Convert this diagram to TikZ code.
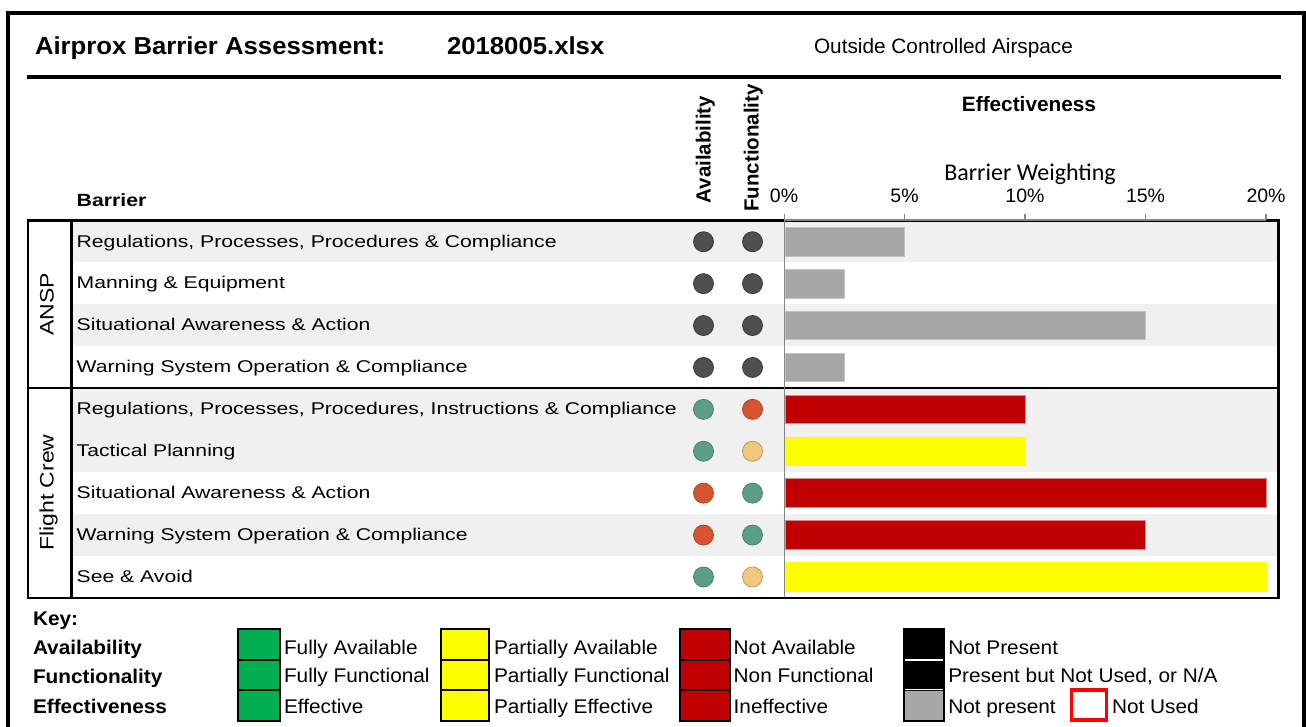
\documentclass[tikz,border=0pt]{standalone}
\usepackage{fontspec}
\setmainfont{Liberation Sans}
\newfontfamily\fT[FakeStretch=1.05]{Liberation Sans}
\newfontfamily\fW[FakeStretch=1.245]{Liberation Sans}
\newfontfamily\fB[FakeStretch=1.2]{Liberation Sans}
\newfontfamily\fG[FakeStretch=1.18]{Liberation Sans}
\newfontfamily\fK[FakeStretch=1.05]{Liberation Sans}
\newfontfamily\fC{Carlito}
\definecolor{rowgray}{HTML}{F0F0F0}
\definecolor{bargray}{HTML}{A6A6A6}
\definecolor{bargrayE}{HTML}{C4C4C4}
\definecolor{barred}{HTML}{C00000}
\definecolor{barredE}{HTML}{E08585}
\definecolor{baryel}{HTML}{FFFF00}
\definecolor{dkF}{HTML}{4F4F4F}
\definecolor{dkE}{HTML}{3A3A3A}
\definecolor{tlF}{HTML}{5C9E8A}
\definecolor{tlE}{HTML}{4A8272}
\definecolor{rdF}{HTML}{D85430}
\definecolor{rdE}{HTML}{B04422}
\definecolor{tnF}{HTML}{F0C880}
\definecolor{tnE}{HTML}{C09858}
\definecolor{keygreen}{HTML}{00B050}
\definecolor{axisgray}{HTML}{868686}
\tikzset{
  txt/.style={inner sep=0pt, outer sep=0pt, anchor=base west},
  rowtxt/.style={txt, font=\fW\fontsize{17}{20}\selectfont},
  keytxt/.style={txt, font=\fK\fontsize{19.8}{22}\selectfont},
  keyhead/.style={txt, font=\fK\bfseries\fontsize{19.8}{22}\selectfont},
  colhead/.style={inner sep=0pt, outer sep=0pt, rotate=90, anchor=base west, font=\bfseries\fontsize{20.5}{22}\selectfont},
  grplab/.style={inner sep=0pt, outer sep=0pt, rotate=90, anchor=base, font=\fG\fontsize{19.5}{22}\selectfont},
  ticklab/.style={inner sep=0pt, outer sep=0pt, anchor=base, font=\fontsize{19.5}{22}\selectfont},
  dot/.style={circle, minimum size=20pt, inner sep=0pt, line width=0.8pt},
  dk/.style={fill=dkF, draw=dkE},
  tl/.style={fill=tlF, draw=tlE},
  rd/.style={fill=rdF, draw=rdE},
  tn/.style={fill=tnF, draw=tnE},
  bG/.style={fill=bargray, draw=bargrayE, line width=0.8pt},
  bR/.style={fill=barred, draw=barredE, line width=0.8pt},
  bY/.style={fill=baryel, draw=baryel, line width=0.8pt},
  keybox/.style={draw=black, line width=2pt},
}
\newcommand\brow[6]{%
  \pgfmathsetmacro\yc{220.3+41.9*(#1-0.5)}%
  \node[rowtxt] (lab#1) at (76.7,\yc+5.8) {#2};%
  \node[dot,#3] (av#1) at (703.5,\yc+0.5) {};%
  \node[dot,#4] (fu#1) at (752.5,\yc+0.5) {};%
  \draw[#6] (785.8,\yc+0.5-14.3) rectangle ({784+24.1*#5},\yc+0.5+14.3);%
}
\begin{document}
\begin{tikzpicture}[x=1pt,y=-1pt]
\useasboundingbox (0,0) rectangle (1306,727);
\fill[white] (0,0) rectangle (1306,727);
% outer frame
\draw[line width=4pt] (8,740) -- (8,13) -- (1304,13) -- (1304,740);
% title
\node[txt, font=\fT\bfseries\fontsize{24.5}{28}\selectfont] (title) at (35,55) {Airprox Barrier Assessment:};
\node[txt, font=\fT\bfseries\fontsize{24.5}{28}\selectfont] (file) at (447,55) {2018005.xlsx};
\node[inner sep=0pt, anchor=base, font=\fontsize{20.8}{24}\selectfont] (space) at (943.5,54) {Outside Controlled Airspace};
\draw[line width=3.4pt] (26.7,77) -- (1281,77);
% column headers
\node[colhead] (havail) at (710.7,203.3) {Availability};
\node[colhead] (hfunc) at (758.5,211.7) {Functionality};
\node[inner sep=0pt, anchor=base, font=\bfseries\fontsize{20.8}{24}\selectfont] (heff) at (1029,111.5) {Effectiveness};
\node[inner sep=0pt, anchor=base, font=\fC\fontsize{24}{28}\selectfont] (hbw) at (1030,181) {Barrier Weighting};
\node[txt, font=\fB\bfseries\fontsize{17.7}{20}\selectfont] (hbar) at (76.7,206.7) {Barrier};
\foreach \p/\t in {0/0\%,5/5\%,10/10\%,15/15\%,20/20\%}{
  \node[ticklab] (tk\p) at ({784+24.1*\p},202.3) {\t};
}
% row shading
\foreach \i in {1,3,5,6,8}{
  \fill[rowgray] (72.7,{220.3+41.9*(\i-1)}) rectangle (1277.7,{220.3+41.9*\i});
}
% rows
\brow{1}{Regulations, Processes, Procedures \& Compliance}{dk}{dk}{5}{bG}
\brow{2}{Manning \& Equipment}{dk}{dk}{2.5}{bG}
\brow{3}{Situational Awareness \& Action}{dk}{dk}{15}{bG}
\brow{4}{Warning System Operation \& Compliance}{dk}{dk}{2.5}{bG}
\brow{5}{Regulations, Processes, Procedures, Instructions \& Compliance}{tl}{rd}{10}{bR}
\brow{6}{Tactical Planning}{tl}{tn}{10}{bY}
\brow{7}{Situational Awareness \& Action}{rd}{tl}{20}{bR}
\brow{8}{Warning System Operation \& Compliance}{rd}{tl}{15}{bR}
\brow{9}{See \& Avoid}{tl}{tn}{20}{bY}
% group labels
\node[grplab] (gansp) at (53.5,{220.3+41.9*2}) {ANSP};
\node[grplab] (gfc) at (53.5,{220.3+41.9*6.5}) {Flight Crew};
% table borders
\draw[line width=2.6pt] (28,220.3) rectangle (1278.7,597.8);
\draw[line width=2.2pt] (71.5,220.3) -- (71.5,597.8);
\draw[line width=2pt] (28,387.9) -- (1278.7,387.9);
% axis
\draw[axisgray, line width=1.5pt] (784.5,214.5) -- (784.5,597);
\draw[axisgray, line width=2pt] (784,220.3) -- (1266,220.3);
\foreach \p in {5,10,15,20}{
  \draw[axisgray, line width=1.5pt] ({784+24.1*\p},214.5) -- ({784+24.1*\p},220.3);
}
% key
\node[keyhead] (kkey) at (33,625) {Key:};
\node[keyhead] (kav) at (33,654) {Availability};
\node[keyhead] (kfu) at (33,683) {Functionality};
\node[keyhead] (kef) at (33,713.5) {Effectiveness};
% green
\draw[keybox, fill=keygreen] (238.3,629) rectangle (280,660);
\draw[keybox, fill=keygreen] (238.3,660) rectangle (280,690.3);
\draw[keybox, fill=keygreen] (238.3,690.3) rectangle (280,720.7);
\node[keytxt] (kg1) at (284,654) {Fully Available};
\node[keytxt] (kg2) at (284,682.7) {Fully Functional};
\node[keytxt] (kg3) at (284,713.3) {Effective};
% yellow
\draw[keybox, fill=baryel] (440.7,629) rectangle (489.3,660);
\draw[keybox, fill=baryel] (440.7,660) rectangle (489.3,690.3);
\draw[keybox, fill=baryel] (440.7,690.3) rectangle (489.3,720.7);
\node[keytxt] (ky1) at (494,654) {Partially Available};
\node[keytxt] (ky2) at (494,682.7) {Partially Functional};
\node[keytxt] (ky3) at (494,713.3) {Partially Effective};
% red
\draw[keybox, fill=barred] (679.5,629) rectangle (729.5,660);
\draw[keybox, fill=barred] (679.5,660) rectangle (729.5,690.3);
\draw[keybox, fill=barred] (679.5,690.3) rectangle (729.5,720.7);
\node[keytxt] (kr1) at (733.7,654) {Not Available};
\node[keytxt] (kr2) at (733.7,682.7) {Non Functional};
\node[keytxt] (kr3) at (733.7,713.3) {Ineffective};
% black / gray
\fill[black] (902.7,628.3) rectangle (945,721.7);
\fill[bargray] (904.5,690.5) rectangle (943.3,720);
\draw[white, line width=1.5pt] (905,660) -- (943,660);
\draw[white, line width=1.5pt] (905,689.5) -- (943,689.5);
\node[keytxt] (kb1) at (948.3,654) {Not Present};
\node[keytxt] (kb2) at (948.3,682.7) {Present but Not Used, or N/A};
\node[keytxt] (kb3) at (948.3,713.3) {Not present};
% not used
\draw[red, line width=3.5pt] (1071.7,690) rectangle (1106.5,720);
\node[keytxt] (knu) at (1112,713.3) {Not Used};
\end{tikzpicture}
\end{document}
